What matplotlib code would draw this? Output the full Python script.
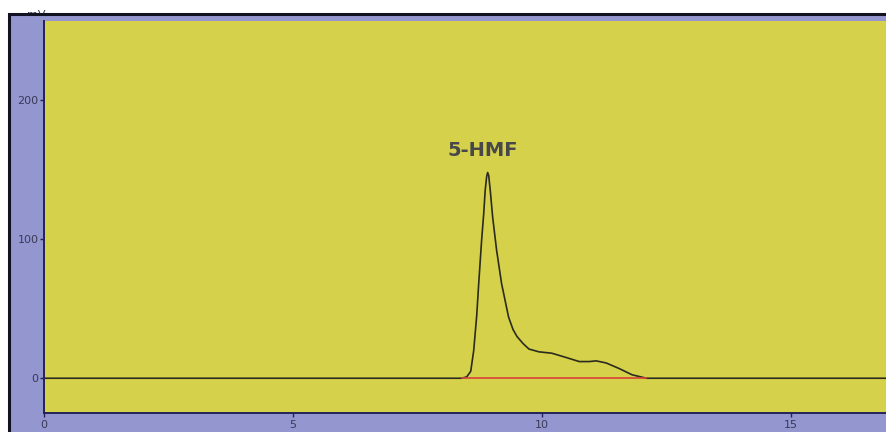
import numpy as np
import matplotlib.pyplot as plt
from matplotlib.patches import Rectangle

# chromatogram trace (min, mV)
tiempo = [0.0, 8.39, 8.49, 8.57, 8.63, 8.69, 8.73, 8.79, 8.83, 8.86, 8.89, 8.91,
          8.93, 8.96, 9.01, 9.09, 9.19, 9.33, 9.42, 9.50, 9.62, 9.74, 9.94,
          10.20, 10.48, 10.75, 10.95, 11.09, 11.29, 11.55, 11.81, 12.10, 17.0]
senal = [0, 0, 1, 5, 20, 45, 68, 100, 118, 135, 145, 148,
         146, 136, 116, 92, 68, 44, 35, 30, 25, 21, 19,
         18, 15, 12, 12, 12.5, 11, 7, 2.5, 0, 0]

# integration baseline under the peak
base_x = [8.39, 12.10]
base_y = [0, 0]

pico = "5-HMF"
pico_x, pico_y = 8.81, 164

xticks = [0, 5, 10, 15]
yticks = [0, 100, 200]

W, H = 887, 432
fig = plt.figure(figsize=(W / 100, H / 100), dpi=100)
fig.patch.set_facecolor("white")

# lavender screen frame with dark border
marco = Rectangle((9 / W, -0.1), 1.2, (H - 14) / H + 0.1, transform=fig.transFigure,
                  facecolor="#9396cf", edgecolor="#111122", linewidth=2.2, zorder=-10)
fig.patches.append(marco)

# axes unit, partly hidden by the frame edge as on the screen
fig.text(36 / W, 1 - 15 / H, "mV", fontsize=8, color="#3a3a55",
         ha="center", va="center", zorder=-20)

ax = fig.add_axes([44 / W, 19 / H, (W - 44) / W, 392 / H])
ax.set_zorder(5)
ax.set_facecolor("#d5d14a")

ax.plot(tiempo, senal, color="#2b2b1e", linewidth=1.2)
ax.plot(base_x, base_y, color="#d8433a", linewidth=1.2)

ax.text(pico_x, pico_y, pico, fontsize=14, fontweight="bold", color="#48484a",
        ha="center", va="center")

ax.set_xlim(0, 16.93)
ax.set_ylim(-25, 257)
ax.set_xticks(xticks)
ax.set_yticks(yticks)

for s in ["top", "right"]:
    ax.spines[s].set_visible(False)
for s in ["left", "bottom"]:
    ax.spines[s].set_color("#23235a")
    ax.spines[s].set_linewidth(1.4)

ax.tick_params(axis="both", colors="#23235a", labelcolor="#3a3a55",
               labelsize=8, length=3, width=1)
ax.tick_params(axis="x", pad=2)
ax.tick_params(axis="y", pad=1)

fig.savefig("out.png", dpi=100)
